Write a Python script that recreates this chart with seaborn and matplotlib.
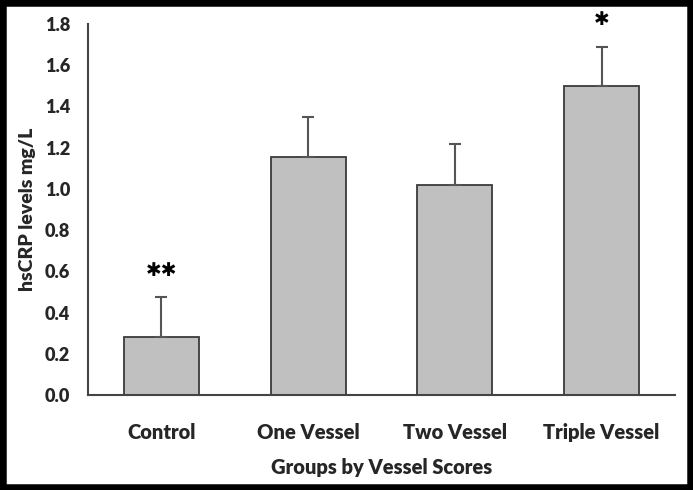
import seaborn as sns
import pandas as pd
import matplotlib.pyplot as plt
import numpy as np

groups = ["Control", "One Vessel", "Two Vessel", "Triple Vessel"]
means = [0.28, 1.155, 1.02, 1.50]
errors = [0.195, 0.195, 0.20, 0.19]
stars = ["✱✱", "", "", "✱"]

sns.set_theme(style="white")
plt.rcParams['font.family'] = ['Lato', 'DejaVu Sans']
plt.rcParams['font.weight'] = 'bold'

df = pd.DataFrame({"Group": groups, "hsCRP": means})

fig = plt.figure(figsize=(6.93, 4.90), dpi=100)
ax = fig.add_axes([0.127, 0.194, 0.847, 0.757])

sns.barplot(data=df, x="Group", y="hsCRP", color="#c0c0c0", edgecolor="#3a3a3a",
            linewidth=1.3, width=0.51, saturation=1, ax=ax)
ax.errorbar(np.arange(len(groups)), means, yerr=[np.zeros(len(errors)), errors],
            fmt="none", ecolor="#555555", elinewidth=1.5, capsize=4, capthick=1.5)

for i, s in enumerate(stars):
    if s:
        ax.text(i, means[i] + errors[i] + 0.13, s, ha="center", va="center",
                fontsize=13.5, color="black", family=["DejaVu Sans"])

ax.set_xlim(-0.5, len(groups) - 0.5)
ax.set_ylim(0, 1.8)
ax.set_yticks(np.arange(0, 1.81, 0.2))
ax.set_yticklabels([f"{v:.1f}" for v in np.arange(0, 1.81, 0.2)], fontsize=13, fontweight="heavy")
ax.set_xticks(np.arange(len(groups) + 1) - 0.5, minor=False)
ax.set_xticklabels([])
ax.set_xticks(np.arange(len(groups)), minor=True)
ax.set_xticklabels(groups, minor=True, fontsize=14.5, fontweight="heavy")
ax.tick_params(axis="x", which="major", direction="out", length=6, width=1.3, color="#444444")
ax.tick_params(axis="x", which="minor", length=0, pad=20)
ax.tick_params(axis="y", direction="out", length=5, width=1.3, color="#444444", pad=8)

for side in ["top", "right"]:
    ax.spines[side].set_visible(False)
for side in ["left", "bottom"]:
    ax.spines[side].set_color("#444444")
    ax.spines[side].set_linewidth(1.5)

ax.set_xlabel("Groups by Vessel Scores", fontsize=14.5, fontweight="heavy", labelpad=12)
ax.set_ylabel("hsCRP levels mg/L", fontsize=14, fontweight="heavy", labelpad=6)

border = plt.Rectangle((0, 0), 1, 1, transform=fig.transFigure, fill=False,
                       edgecolor="black", linewidth=9)
fig.patches.append(border)

fig.savefig("out.png", dpi=100)
